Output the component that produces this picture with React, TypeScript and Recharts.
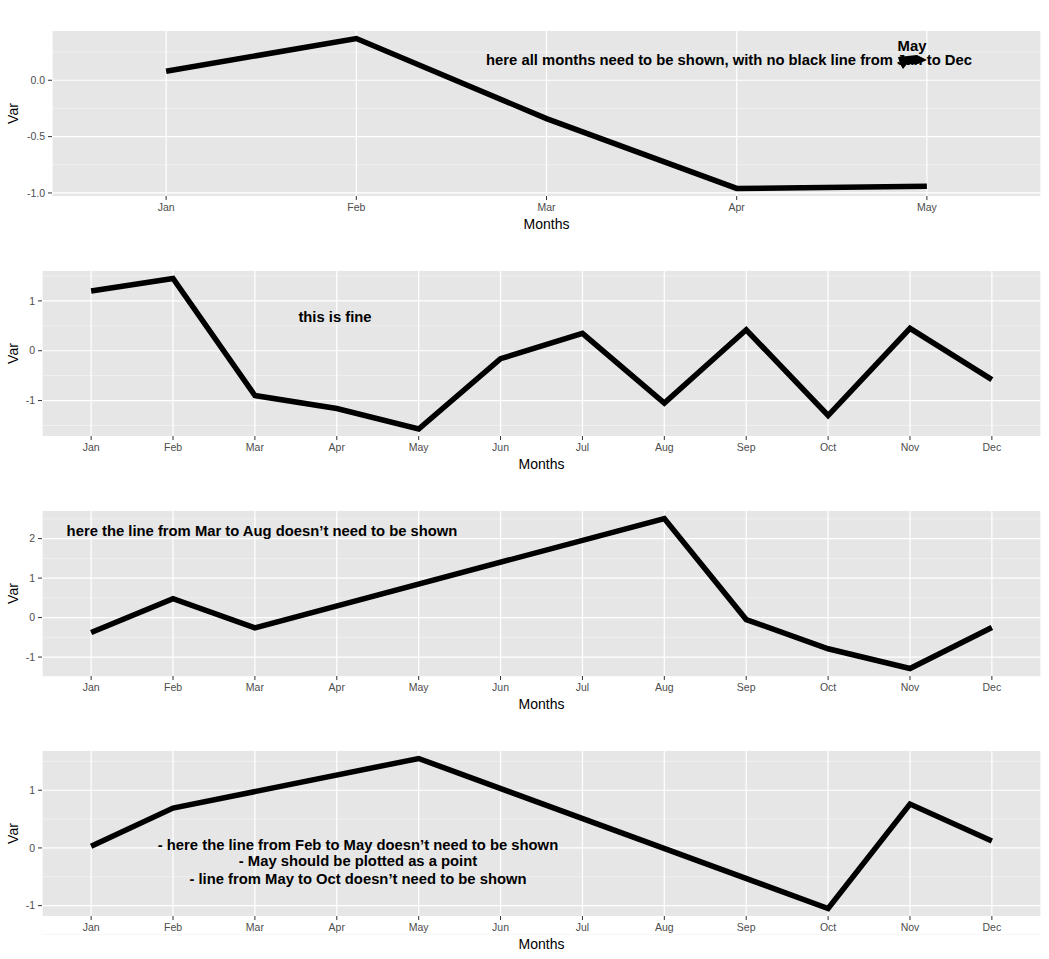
import React from 'react'
import { LineChart, Line, XAxis, YAxis, CartesianGrid } from 'recharts'

const monthsShort = ['Jan', 'Feb', 'Mar', 'Apr', 'May']
const monthsAll = ['Jan', 'Feb', 'Mar', 'Apr', 'May', 'Jun', 'Jul', 'Aug', 'Sep', 'Oct', 'Nov', 'Dec']

const var1 = [0.08, 0.37, -0.34, -0.96, -0.94]
const var2 = [1.2, 1.45, -0.9, -1.16, -1.57, -0.16, 0.35, -1.05, 0.42, -1.3, 0.45, -0.58]
// missing months just get joined across (connectNulls)
const var3 = [-0.38, 0.48, -0.26, null, null, null, null, 2.51, -0.05, -0.79, -1.29, -0.25]
const var4 = [0.03, 0.69, null, null, 1.55, null, null, null, null, -1.05, 0.76, 0.12]

const ticks1 = [-1, -0.5, 0]
const minor1 = [-0.75, -0.25, 0.25]
const ticks2 = [-1, 0, 1]
const minor2 = [-1.5, -0.5, 0.5, 1.5]
const ticks3 = [-1, 0, 1, 2]
const minor3 = [-1.5, -0.5, 0.5, 1.5, 2.5]
const ticks4 = [-1, 0, 1]
const minor4 = [-1.5, -0.5, 0.5, 1.5]

const FONT = '"Liberation Sans", Arial, Helvetica, sans-serif'
const W = 1049
const H = 240
const TOP = 31
const RIGHT = 8
const PLOT_H = 165

function Panel({ months, values, domain, ticks, minor, yWidth, fmt, gaps }) {
  const data = months.map((m, i) => ({ month: m, v: values[i] }))
  const plotW = W - yWidth - RIGHT
  // ggplot style discrete expansion: 0.6 of a step on each side
  const pad = (0.6 * plotW) / (months.length - 1 + 1.2)
  return (
    <LineChart width={W} height={H} data={data} margin={{ top: TOP, right: RIGHT, bottom: 0, left: 0 }}>
      <CartesianGrid
        fill="#E6E6E6"
        stroke="#F4F4F4"
        strokeWidth={0.7}
        vertical={false}
        horizontalValues={minor}
      />
      <CartesianGrid
        stroke="#FFFFFF"
        strokeWidth={1.2}
        horizontalValues={ticks}
      />
      <XAxis
        dataKey="month"
        scale="point"
        padding={{ left: pad, right: pad }}
        axisLine={false}
        tickLine={{ stroke: '#333333' }}
        tickSize={4}
        tickMargin={4}
        height={H - TOP - PLOT_H}
        tick={{ fontSize: 10.5, fill: '#4D4D4D', fontFamily: FONT }}
        label={(p) => {
          const vb = p.viewBox
          return (
            <text x={vb.x + vb.width / 2} y={vb.y + 33} textAnchor="middle" fontSize={14} fontFamily={FONT} fill="#000">
              Months
            </text>
          )
        }}
      />
      <YAxis
        type="number"
        domain={domain}
        ticks={ticks}
        allowDataOverflow
        width={yWidth}
        axisLine={false}
        tickLine={{ stroke: '#333333' }}
        tickSize={4}
        tickMargin={3}
        tickFormatter={fmt}
        tick={{ fontSize: 10.5, fill: '#4D4D4D', fontFamily: FONT }}
        label={(p) => {
          const vb = p.viewBox
          const cy = vb.y + vb.height / 2
          return (
            <text x={14} y={cy} transform={`rotate(-90 14 ${cy})`} textAnchor="middle" dominantBaseline="middle" fontSize={14} fontFamily={FONT} fill="#000">
              Var
            </text>
          )
        }}
      />
      <Line
        type="linear"
        dataKey="v"
        stroke="#000000"
        strokeWidth={5.5}
        dot={false}
        activeDot={false}
        connectNulls={gaps}
        isAnimationActive={false}
      />
    </LineChart>
  )
}

const noteStyle = { fontFamily: FONT, fontWeight: 700, fontSize: 14.8, fill: '#000' }

export default function App() {
  return (
    <div style={{ position: 'absolute', left: 0, top: 0, width: W, height: 959, background: '#fff' }}>
      <Panel months={monthsShort} values={var1} domain={[-1.027, 0.437]} ticks={ticks1} minor={minor1} yWidth={52} fmt={(v) => v.toFixed(1)} gaps={false} />
      <Panel months={monthsAll} values={var2} domain={[-1.711, 1.6]} ticks={ticks2} minor={minor2} yWidth={42} fmt={(v) => String(v)} gaps={false} />
      <Panel months={monthsAll} values={var3} domain={[-1.48, 2.7]} ticks={ticks3} minor={minor3} yWidth={42} fmt={(v) => String(v)} gaps={true} />
      <Panel months={monthsAll} values={var4} domain={[-1.18, 1.68]} ticks={ticks4} minor={minor4} yWidth={42} fmt={(v) => String(v)} gaps={true} />

      <svg width={W} height={959} style={{ position: 'absolute', left: 0, top: 0, pointerEvents: 'none' }}>
        <text x={729} y={65} textAnchor="middle" style={noteStyle}>
          here all months need to be shown, with no black line from Jan to Dec
        </text>
        <path d="M898,57 L917,55 L927,60 L918,64 L907,64 L903,69 L900,64 Z" fill="#000" />
        <text x={912} y={51} textAnchor="middle" style={noteStyle}>May</text>

        <text x={335} y={322} textAnchor="middle" style={noteStyle}>this is fine</text>

        <text x={262} y={536} textAnchor="middle" style={noteStyle}>
          here the line from Mar to Aug doesn’t need to be shown
        </text>

        <text x={358} y={850} textAnchor="middle" style={noteStyle}>
          - here the line from Feb to May doesn’t need to be shown
        </text>
        <text x={358} y={866} textAnchor="middle" style={noteStyle}>
          - May should be plotted as a point
        </text>
        <text x={358} y={884} textAnchor="middle" style={noteStyle}>
          - line from May to Oct doesn’t need to be shown
        </text>
      </svg>
    </div>
  )
}
